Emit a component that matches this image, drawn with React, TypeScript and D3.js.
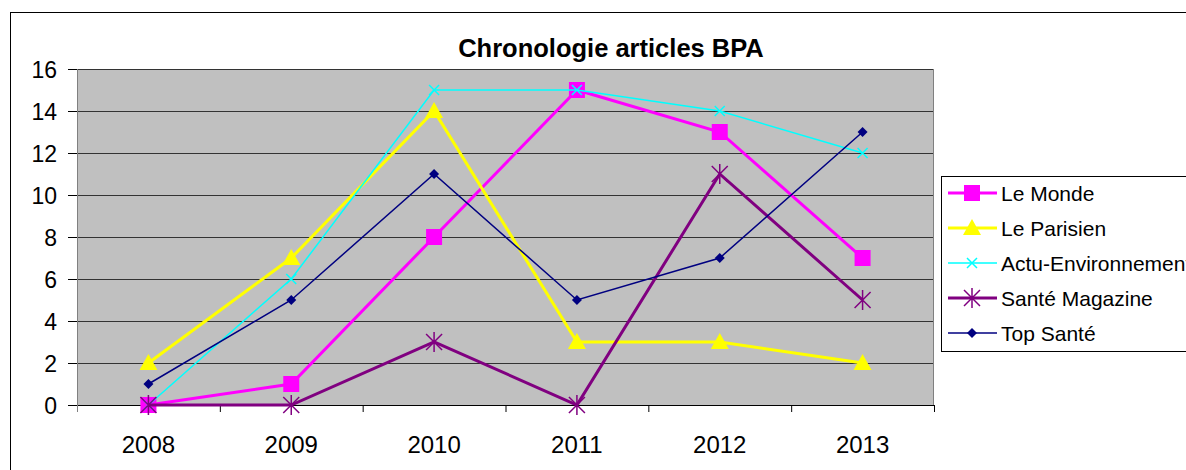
import React from 'react';
import * as d3 from 'd3';

const years = ['2008', '2009', '2010', '2011', '2012', '2013'];
const yTicks = [0, 2, 4, 6, 8, 10, 12, 14, 16];

const seriesNames = ['Le Monde', 'Le Parisien', 'Actu-Environnement', 'Santé Magazine', 'Top Santé'];
const leMonde = [0, 1, 8, 15, 13, 7];
const leParisien = [2, 7, 14, 3, 3, 2];
const actuEnv = [0, 6, 15, 15, 14, 12];
const santeMag = [0, 0, 3, 0, 11, 5];
const topSante = [1, 5, 11, 5, 7, 13];

const colors = ['#FF00FF', '#FFFF00', '#00FFFF', '#800080', '#000080'];
const widths = [3, 3, 1.5, 3, 1.5];
const markers = ['square', 'triangle', 'x', 'star', 'diamond'];

const FONT = 'Arial, "Liberation Sans", sans-serif';

function Marker({ kind, x, y, color }: { kind: string; x: number; y: number; color: string }) {
  switch (kind) {
    case 'square':
      return <rect x={x - 8} y={y - 8} width={16} height={16} fill={color} />;
    case 'triangle':
      return <path d={`M${x},${y - 9}L${x + 9},${y + 7}L${x - 9},${y + 7}Z`} fill={color} />;
    case 'x':
      return (
        <path d={`M${x - 5},${y - 5}L${x + 5},${y + 5}M${x - 5},${y + 5}L${x + 5},${y - 5}`} stroke={color} strokeWidth={1.5} />
      );
    case 'star':
      return (
        <path
          d={`M${x - 8},${y - 8}L${x + 8},${y + 8}M${x - 8},${y + 8}L${x + 8},${y - 8}M${x},${y - 10}L${x},${y + 10}`}
          stroke={color}
          strokeWidth={1.5}
        />
      );
    default:
      return <path d={`M${x},${y - 5}L${x + 5},${y}L${x},${y + 5}L${x - 5},${y}Z`} fill={color} />;
  }
}

export default function App() {
  const data = [leMonde, leParisien, actuEnv, santeMag, topSante];
  const left = 77;
  const right = 934;
  const top = 69;
  const bottom = 405;

  const x = d3.scaleBand().domain(years).range([left, right]);
  const y = d3.scaleLinear().domain([0, 16]).range([bottom, top]);
  const cx = (yr: string) => (x(yr) as number) + x.bandwidth() / 2;

  const line = d3
    .line<number>()
    .x((_, i) => cx(years[i]))
    .y(d => y(d));

  const legendX = 941;
  const legendY = 176;

  return (
    <svg width={1186} height={470} style={{ position: 'fixed', left: 0, top: 0, background: '#fff' }} fontFamily={FONT}>
      <rect x={10.5} y={12.5} width={1200} height={500} fill="#fff" stroke="#000" />
      <text x={611} y={57} textAnchor="middle" fontSize={25.5} fontWeight="bold">
        Chronologie articles BPA
      </text>
      <rect x={left} y={top} width={right - left} height={bottom - top} fill="#C0C0C0" />
      {yTicks.map(t => (
        <g key={t}>
          <line x1={left} x2={right} y1={y(t) + 0.5} y2={y(t) + 0.5} stroke={t === 0 ? '#000' : '#333'} strokeWidth={t === 16 ? 1 : 1.2} />
          <line x1={left - 9} x2={left} y1={y(t) + 0.5} y2={y(t) + 0.5} stroke="#000" />
          <text x={57} y={y(t) + 8.5} textAnchor="end" fontSize={23}>
            {t}
          </text>
        </g>
      ))}
      <line x1={left + 0.5} x2={left + 0.5} y1={top} y2={bottom + 7} stroke="#808080" />
      <line x1={right - 0.5} x2={right - 0.5} y1={top} y2={bottom} stroke="#808080" />
      {years.map(yr => (
        <g key={yr}>
          <line
            x1={(x(yr) as number) + x.bandwidth() + 0.5}
            x2={(x(yr) as number) + x.bandwidth() + 0.5}
            y1={bottom}
            y2={bottom + 7}
            stroke="#000"
          />
          <text x={cx(yr)} y={453} textAnchor="middle" fontSize={24}>
            {yr}
          </text>
        </g>
      ))}
      {data.map((vals, s) => (
        <g key={seriesNames[s]}>
          <path d={line(vals) || ''} fill="none" stroke={colors[s]} strokeWidth={widths[s]} />
          {vals.map((v, i) => (
            <Marker key={i} kind={markers[s]} x={cx(years[i])} y={y(v)} color={colors[s]} />
          ))}
        </g>
      ))}
      <rect x={legendX + 0.5} y={legendY + 0.5} width={300} height={175} fill="#fff" stroke="#000" />
      {seriesNames.map((name, s) => {
        const ly = legendY + 17 + s * 35;
        return (
          <g key={name}>
            <line x1={948} x2={997} y1={ly} y2={ly} stroke={colors[s]} strokeWidth={widths[s]} />
            <Marker kind={markers[s]} x={972} y={ly} color={colors[s]} />
            <text x={1001} y={ly + 7.5} fontSize={21}>
              {name}
            </text>
          </g>
        );
      })}
    </svg>
  );
}
